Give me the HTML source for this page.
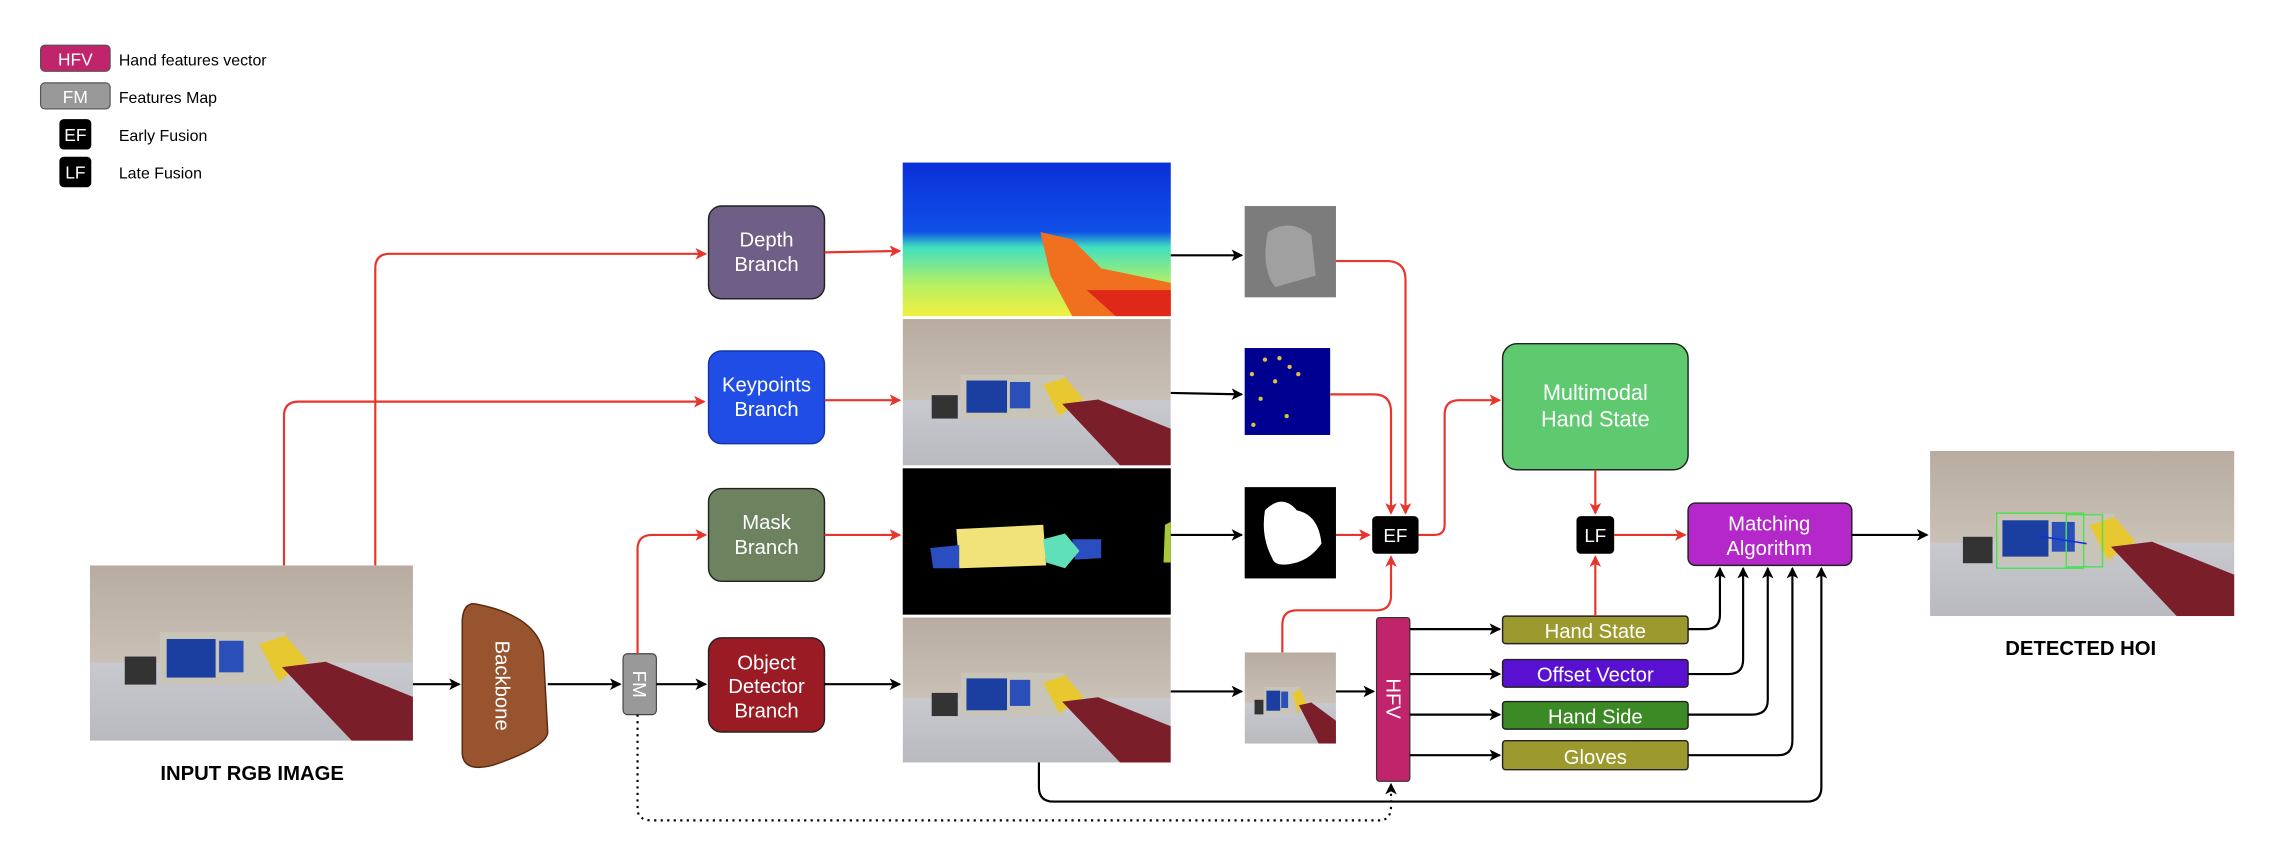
<!DOCTYPE html>
<html><head><meta charset="utf-8"><style>
html,body{margin:0;padding:0;background:#fff;}
svg{display:block;}
text{font-family:"Liberation Sans",sans-serif;}
</style></head><body>
<svg width="2272" height="854" viewBox="0 0 1568 589" xmlns="http://www.w3.org/2000/svg">
<defs>
<marker id="ab" markerWidth="8" markerHeight="8" refX="7" refY="4" orient="auto" markerUnits="userSpaceOnUse"><path d="M0,0 L8,4 L0,8 L2,4z" fill="#000"/></marker>
<marker id="ar" markerWidth="8" markerHeight="8" refX="7" refY="4" orient="auto" markerUnits="userSpaceOnUse"><path d="M0,0 L8,4 L0,8 L2,4z" fill="#e8352b"/></marker>
<linearGradient id="wall" x1="0" y1="0" x2="0" y2="1"><stop offset="0" stop-color="#b8aca0"/><stop offset="0.55" stop-color="#c9c0b6"/><stop offset="0.56" stop-color="#c8c9cf"/><stop offset="1" stop-color="#b9bac0"/></linearGradient>
<linearGradient id="depth" x1="0" y1="0" x2="0" y2="1"><stop offset="0" stop-color="#0a2fd8"/><stop offset="0.45" stop-color="#1050e8"/><stop offset="0.55" stop-color="#40e0c0"/><stop offset="0.8" stop-color="#b8f060"/><stop offset="1" stop-color="#f0f040"/></linearGradient>
<symbol id="photo" viewBox="0 0 185 100" preserveAspectRatio="none">
<rect width="185" height="100" fill="url(#wall)"/>
<rect x="40" y="38" width="72" height="30" fill="#c8c4b8"/>
<rect x="44" y="42" width="28" height="22" fill="#1b3fa0"/>
<rect x="74" y="43" width="14" height="18" fill="#2a4fb8"/>
<rect x="20" y="52" width="18" height="16" fill="#333"/>
<path d="M97,45 L112,40 L125,55 L108,66 Z" fill="#e8c830"/>
<path d="M110,58 L135,55 L185,75 L185,100 L150,100 Z" fill="#7a1f2a"/>
</symbol>
</defs>

<!-- legend -->
<rect x="28" y="31" width="48" height="18" rx="3" fill="#c0246a" stroke="#555" stroke-width="0.8"/>
<text x="52" y="45" fill="#fff" font-size="12" text-anchor="middle">HFV</text>
<text x="82" y="45" font-size="11">Hand features vector</text>
<rect x="28" y="57" width="48" height="18" rx="3" fill="#999" stroke="#555" stroke-width="0.8"/>
<text x="52" y="71" fill="#fff" font-size="12" text-anchor="middle">FM</text>
<text x="82" y="71" font-size="11">Features Map</text>
<rect x="41" y="82" width="22" height="21" rx="3" fill="#000"/>
<text x="52" y="97" fill="#fff" font-size="12" text-anchor="middle">EF</text>
<text x="82" y="97" font-size="11">Early Fusion</text>
<rect x="41" y="108" width="22" height="21" rx="3" fill="#000"/>
<text x="52" y="123" fill="#fff" font-size="12" text-anchor="middle">LF</text>
<text x="82" y="123" font-size="11">Late Fusion</text>

<!-- input image -->
<use href="#photo" x="62" y="390" width="223" height="121"/>
<text x="174" y="538" font-size="14" font-weight="bold" text-anchor="middle">INPUT RGB IMAGE</text>

<!-- backbone -->
<path d="M330,417 Q370,425 375,450 L378,505 Q378,515 340,528 Q320,533 319,520 L319,428 Q320,414 330,417Z" fill="#98542f" stroke="#5a2a10" stroke-width="1"/>
<text transform="translate(342,473) rotate(90)" fill="#fff" font-size="14" text-anchor="middle">Backbone</text>

<!-- FM -->
<rect x="430" y="451" width="23" height="42" rx="3" fill="#999" stroke="#444" stroke-width="0.8"/>
<text transform="translate(437,472) rotate(90)" fill="#fff" font-size="13" text-anchor="middle">FM</text>

<!-- branches -->
<rect x="489" y="142" width="80" height="64" rx="9" fill="#6f5f86" stroke="#222" stroke-width="1"/>
<text x="529" y="170" fill="#fff" font-size="14" text-anchor="middle">Depth</text>
<text x="529" y="187" fill="#fff" font-size="14" text-anchor="middle">Branch</text>
<rect x="489" y="242" width="80" height="64" rx="9" fill="#1f4de6" stroke="#1533a8" stroke-width="1"/>
<text x="529" y="270" fill="#fff" font-size="14" text-anchor="middle">Keypoints</text>
<text x="529" y="287" fill="#fff" font-size="14" text-anchor="middle">Branch</text>
<rect x="489" y="337" width="80" height="64" rx="9" fill="#6d8360" stroke="#222" stroke-width="1"/>
<text x="529" y="365" fill="#fff" font-size="14" text-anchor="middle">Mask</text>
<text x="529" y="382" fill="#fff" font-size="14" text-anchor="middle">Branch</text>
<rect x="489" y="440" width="80" height="65" rx="9" fill="#9b1b25" stroke="#222" stroke-width="1"/>
<text x="529" y="462" fill="#fff" font-size="14" text-anchor="middle">Object</text>
<text x="529" y="478" fill="#fff" font-size="14" text-anchor="middle">Detector</text>
<text x="529" y="495" fill="#fff" font-size="14" text-anchor="middle">Branch</text>

<!-- branch output images -->
<rect x="623" y="112" width="185" height="106" fill="url(#depth)"/>
<path d="M718,160 L740,165 L760,185 L808,195 L808,218 L740,218 L725,190 Z" fill="#f07020"/>
<path d="M750,200 L808,200 L808,218 L770,218Z" fill="#e02818"/>
<use href="#photo" x="623" y="220" width="185" height="101"/>
<rect x="623" y="323" width="185" height="101" fill="#000"/>
<path d="M660,365 L720,362 L722,390 L662,392Z" fill="#f2e27a"/>
<path d="M642,378 L662,376 L662,392 L644,392Z" fill="#2a4ec0"/>
<path d="M740,372 L760,372 L760,385 L742,386Z" fill="#2a4ec0"/>
<path d="M720,372 L735,368 L745,380 L735,392 L722,388Z" fill="#60e0b8"/>
<path d="M804,362 L808,360 L808,388 L803,388Z" fill="#a8c838"/>
<use href="#photo" x="623" y="426" width="185" height="100"/>

<!-- small crops -->
<rect x="859" y="142" width="63" height="63" fill="#7c7c7c"/>
<path d="M875,160 Q890,150 905,162 L908,190 L880,198 Q870,185 875,160Z" fill="#a0a0a0"/>
<rect x="859" y="240" width="59" height="60" fill="#000090"/>
<g fill="#e0c040"><circle cx="873" cy="248" r="1.5"/><circle cx="883" cy="247" r="1.5"/><circle cx="890" cy="253" r="1.5"/><circle cx="864" cy="258" r="1.5"/><circle cx="880" cy="263" r="1.5"/><circle cx="870" cy="275" r="1.5"/><circle cx="888" cy="287" r="1.5"/><circle cx="865" cy="293" r="1.5"/><circle cx="896" cy="258" r="1.5"/></g>
<rect x="859" y="336" width="63" height="63" fill="#000"/>
<path d="M873,352 Q885,340 895,352 Q910,355 912,375 Q905,385 895,388 Q880,392 878,385 Q870,370 873,352Z" fill="#fff"/>
<use href="#photo" x="859" y="450" width="63" height="63"/>

<!-- EF / LF -->
<rect x="947" y="356" width="32" height="26" rx="3" fill="#000"/>
<text x="963" y="374" fill="#fff" font-size="13" text-anchor="middle">EF</text>
<rect x="1088" y="356" width="26" height="26" rx="3" fill="#000"/>
<text x="1101" y="374" fill="#fff" font-size="13" text-anchor="middle">LF</text>

<!-- HFV bar -->
<rect x="950" y="426" width="23" height="113" rx="2" fill="#c0246a" stroke="#333" stroke-width="0.8"/>
<text transform="translate(957,482) rotate(90)" fill="#fff" font-size="14" text-anchor="middle">HFV</text>

<!-- multimodal -->
<rect x="1037" y="237" width="128" height="87" rx="10" fill="#5ec96f" stroke="#222" stroke-width="1"/>
<text x="1101" y="276" fill="#fff" font-size="15" text-anchor="middle">Multimodal</text>
<text x="1101" y="294" fill="#fff" font-size="15" text-anchor="middle">Hand State</text>

<!-- matching -->
<rect x="1165" y="347" width="113" height="43" rx="5" fill="#b427c8" stroke="#222" stroke-width="1"/>
<text x="1221" y="366" fill="#fff" font-size="14" text-anchor="middle">Matching</text>
<text x="1221" y="383" fill="#fff" font-size="14" text-anchor="middle">Algorithm</text>

<!-- features -->
<rect x="1037" y="425" width="128" height="19" rx="2" fill="#9c9a2e" stroke="#222" stroke-width="1"/>
<text x="1101" y="440" fill="#fff" font-size="14" text-anchor="middle">Hand State</text>
<rect x="1037" y="455" width="128" height="19" rx="2" fill="#5a10d0" stroke="#222" stroke-width="1"/>
<text x="1101" y="470" fill="#fff" font-size="14" text-anchor="middle">Offset Vector</text>
<rect x="1037" y="484" width="128" height="19" rx="2" fill="#3c8a25" stroke="#222" stroke-width="1"/>
<text x="1101" y="499" fill="#fff" font-size="14" text-anchor="middle">Hand Side</text>
<rect x="1037" y="511" width="128" height="20" rx="2" fill="#9c9a2e" stroke="#222" stroke-width="1"/>
<text x="1101" y="527" fill="#fff" font-size="14" text-anchor="middle">Gloves</text>

<!-- detected -->
<use href="#photo" x="1332" y="311" width="210" height="114"/>
<rect x="1378" y="354" width="60" height="38" fill="none" stroke="#50e050" stroke-width="1"/>
<rect x="1426" y="355" width="25" height="36" fill="none" stroke="#50e050" stroke-width="1"/>
<line x1="1408" y1="370" x2="1440" y2="375" stroke="#1030e0" stroke-width="1"/>
<text x="1436" y="452" font-size="14" font-weight="bold" text-anchor="middle">DETECTED HOI</text>

<!-- connectors red -->
<g fill="none" stroke="#e8352b" stroke-width="1.5">
<path d="M196,390 L196,287 Q196,277 206,277 L486,277" marker-end="url(#ar)"/>
<path d="M259,390 L259,185 Q259,175 269,175 L487,175" marker-end="url(#ar)"/>
<path d="M440,451 L440,379 Q440,369 450,369 L487,369" marker-end="url(#ar)"/>
<path d="M569,174 L621,173" marker-end="url(#ar)"/>
<path d="M569,276 L621,276" marker-end="url(#ar)"/>
<path d="M569,369 L621,369" marker-end="url(#ar)"/>
<path d="M922,180 L957,180 Q970,180 970,193 L970,354" marker-end="url(#ar)"/>
<path d="M918,272 L948,272 Q960,272 960,284 L960,354" marker-end="url(#ar)"/>
<path d="M922,369 L945,369" marker-end="url(#ar)"/>
<path d="M885,450 L885,431 Q885,421 895,421 L950,421 Q960,421 960,411 L960,384" marker-end="url(#ar)"/>
<path d="M979,369 L990,369 Q997,369 997,362 L997,286 Q997,276 1007,276 L1035,276" marker-end="url(#ar)"/>
<path d="M1101,324 L1101,354" marker-end="url(#ar)"/>
<path d="M1101,425 L1101,384" marker-end="url(#ar)"/>
<path d="M1114,369 L1163,369" marker-end="url(#ar)"/>
</g>

<!-- connectors black -->
<g fill="none" stroke="#000" stroke-width="1.5">
<path d="M285,472 L317,472" marker-end="url(#ab)"/>
<path d="M378,472 L428,472" marker-end="url(#ab)"/>
<path d="M453,472 L487,472" marker-end="url(#ab)"/>
<path d="M569,472 L621,472" marker-end="url(#ab)"/>
<path d="M808,176 L857,176" marker-end="url(#ab)"/>
<path d="M808,271 L857,272" marker-end="url(#ab)"/>
<path d="M808,369 L857,369" marker-end="url(#ab)"/>
<path d="M808,477 L857,477" marker-end="url(#ab)"/>
<path d="M922,477 L948,477" marker-end="url(#ab)"/>
<path d="M973,434 L1035,434" marker-end="url(#ab)"/>
<path d="M973,465 L1035,465" marker-end="url(#ab)"/>
<path d="M973,493 L1035,493" marker-end="url(#ab)"/>
<path d="M973,521 L1035,521" marker-end="url(#ab)"/>
<path d="M1165,434 L1177,434 Q1187,434 1187,424 L1187,392" marker-end="url(#ab)"/>
<path d="M1165,465 L1193,465 Q1203,465 1203,455 L1203,392" marker-end="url(#ab)"/>
<path d="M1165,493 L1209,493 Q1220,493 1220,483 L1220,392" marker-end="url(#ab)"/>
<path d="M1165,521 L1227,521 Q1237,521 1237,511 L1237,392" marker-end="url(#ab)"/>
<path d="M717,526 L717,543 Q717,553 727,553 L1247,553 Q1257,553 1257,543 L1257,392" marker-end="url(#ab)"/>
<path d="M1278,369 L1330,369" marker-end="url(#ab)"/>
<path d="M440,493 L440,558 Q440,566 450,566 L952,566 Q960,566 960,556 L960,541" stroke-dasharray="1.5,3" marker-end="url(#ab)"/>
</g>
</svg>
</body></html>
